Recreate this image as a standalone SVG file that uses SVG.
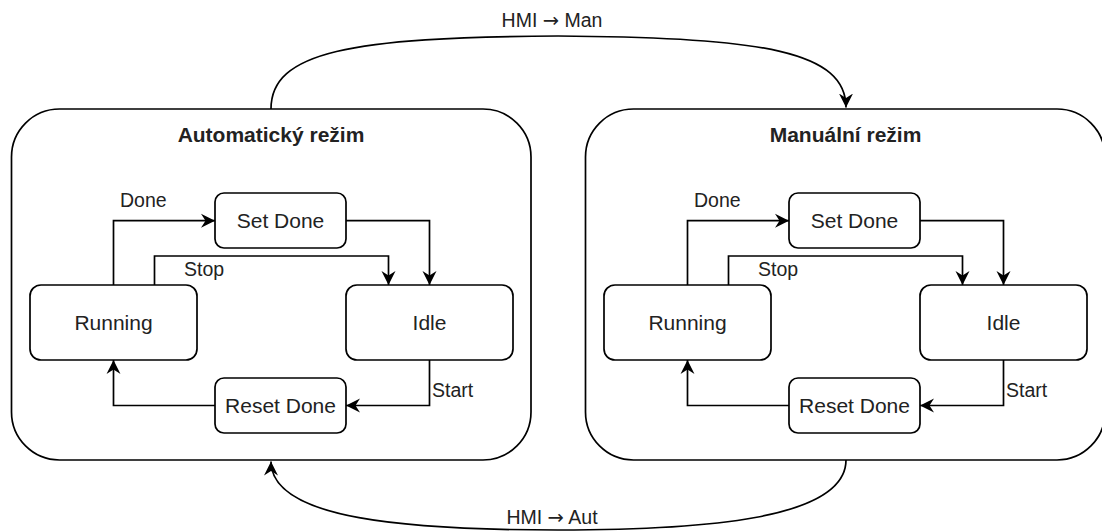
<svg xmlns="http://www.w3.org/2000/svg" width="1102" height="532" viewBox="0 0 1102 532">
<style>
.box{fill:#fff;stroke:#000;stroke-width:1.7}
.edge{fill:none;stroke:#000;stroke-width:1.7}
.t{font-family:"Liberation Sans",Arial,sans-serif;font-size:21px;fill:#222;text-anchor:middle}
.title{font-family:"Liberation Sans",Arial,sans-serif;font-size:21px;font-weight:bold;fill:#222;text-anchor:middle}
.lbl{font-family:"Liberation Sans",Arial,sans-serif;font-size:19.5px;fill:#222}
.ar{font-family:"DejaVu Sans",sans-serif}
</style>
<defs>
<marker id="arr" markerUnits="userSpaceOnUse" markerWidth="15" markerHeight="15" viewBox="0 0 15 15" refX="14" refY="7.5" orient="auto">
<path d="M0,0.5 L14,7.5 L0,14.5 L4.5,7.5 Z" fill="#000"/>
</marker>
</defs>
<rect width="1102" height="532" fill="#fff"/>
<g id="auto-mode">
<rect class="box" x="11.5" y="109" width="519.5" height="351" rx="48" ry="48"/>
<text class="title" x="271" y="142">Automatický režim</text>
</g>
<g id="manual-mode">
<rect class="box" x="585.5" y="109" width="519.5" height="351" rx="48" ry="48"/>
<text class="title" x="845.5" y="142">Manuální režim</text>
</g>
<g id="connectors">
<path class="edge" d="M271,109 C271,52 350,37 558,36 C766,37 846,52 846,107.5" marker-end="url(#arr)"/>
<text class="lbl" x="552" y="27" text-anchor="middle">HMI <tspan class="ar">→</tspan> Man</text>
<path class="edge" d="M846,460 C846,520 700,530 558,530 C410,530 271,520 271,461.5" marker-end="url(#arr)"/>
<text class="lbl" x="552" y="524" text-anchor="middle">HMI <tspan class="ar">→</tspan> Aut</text>
<path class="edge" d="M113.5,285 V220.7 H215" marker-end="url(#arr)"/>
<text class="lbl" x="120" y="207">Done</text>
<path class="edge" d="M154.5,285 V256 H388.5 V285" marker-end="url(#arr)"/>
<text class="lbl" x="184" y="275.5">Stop</text>
<path class="edge" d="M346,220.7 H429.5 V285" marker-end="url(#arr)"/>
<path class="edge" d="M429.5,360 V405.5 H346" marker-end="url(#arr)"/>
<text class="lbl" x="432" y="396.5">Start</text>
<path class="edge" d="M215,405.5 H113.5 V360" marker-end="url(#arr)"/>
<path class="edge" d="M687.5,285 V220.7 H789" marker-end="url(#arr)"/>
<text class="lbl" x="694" y="207">Done</text>
<path class="edge" d="M728.5,285 V256 H962.5 V285" marker-end="url(#arr)"/>
<text class="lbl" x="758" y="275.5">Stop</text>
<path class="edge" d="M920,220.7 H1003.5 V285" marker-end="url(#arr)"/>
<path class="edge" d="M1003.5,360 V405.5 H920" marker-end="url(#arr)"/>
<text class="lbl" x="1006" y="396.5">Start</text>
<path class="edge" d="M789,405.5 H687.5 V360" marker-end="url(#arr)"/>
</g>
<g id="a-setdone"><rect class="box" x="215" y="193" width="131" height="55" rx="9"/><text class="t" x="280.5" y="227.5">Set Done</text></g>
<g id="a-running"><rect class="box" x="30" y="285" width="167" height="75" rx="11"/><text class="t" x="113.5" y="330">Running</text></g>
<g id="a-idle"><rect class="box" x="346" y="285" width="167" height="75" rx="11"/><text class="t" x="429.5" y="330">Idle</text></g>
<g id="a-resetdone"><rect class="box" x="215" y="378" width="131" height="55" rx="9"/><text class="t" x="280.5" y="412.5">Reset Done</text></g>
<g id="m-setdone"><rect class="box" x="789" y="193" width="131" height="55" rx="9"/><text class="t" x="854.5" y="227.5">Set Done</text></g>
<g id="m-running"><rect class="box" x="604" y="285" width="167" height="75" rx="11"/><text class="t" x="687.5" y="330">Running</text></g>
<g id="m-idle"><rect class="box" x="920" y="285" width="167" height="75" rx="11"/><text class="t" x="1003.5" y="330">Idle</text></g>
<g id="m-resetdone"><rect class="box" x="789" y="378" width="131" height="55" rx="9"/><text class="t" x="854.5" y="412.5">Reset Done</text></g>
</svg>
